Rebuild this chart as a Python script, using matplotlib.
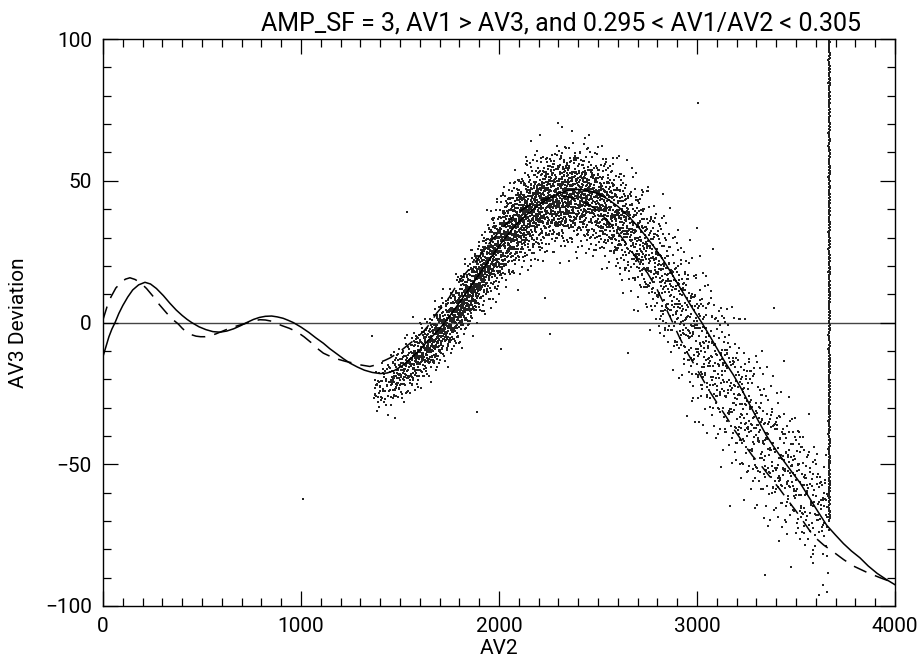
import numpy as np
import matplotlib
matplotlib.use("Agg")
import matplotlib.pyplot as plt
from matplotlib.ticker import MultipleLocator

# ---- data ----
solid_x = [0, 15, 30, 45, 61, 80, 100, 125, 150, 180, 212, 240, 270, 305, 338, 370, 400, 425, 448,
           485, 520, 555, 591, 625, 660, 695, 726, 760, 790, 820, 852, 880, 910, 935, 961, 1000,
           1040, 1075, 1113, 1145, 1180, 1215, 1247, 1285, 1320, 1360, 1400, 1435, 1470, 1510,
           1550, 1595, 1640, 1685, 1727, 1800, 1850, 1900, 1950, 2000, 2050, 2100, 2150, 2200,
           2250, 2300, 2350, 2400, 2450, 2500, 2550, 2600, 2650, 2700, 2740, 2780, 2830, 2870,
           2900, 2930, 2960, 2990, 3024, 3060, 3100, 3140, 3183, 3225, 3270, 3310, 3352, 3395,
           3440, 3480, 3520, 3560, 3600, 3655, 3700, 3740, 3780, 3823, 3865, 3910, 3955, 4000]
solid_y = [-12, -8.5, -5, -2.3, 0, 3.2, 6, 9, 11.5, 13.3, 14.2, 13.6, 12, 9.5, 6.8, 4.4, 2.5, 1.1, 0,
           -1.5, -2.5, -3.2, -3.4, -3.0, -2.2, -1.1, 0, 1.1, 1.8, 2.2, 2.3, 2.0, 1.5, 0.8, 0, -1.6,
           -3.5, -5.4, -7.3, -9.2, -11, -12.8, -14.3, -15.7, -16.8, -17.6, -18, -17.8, -17, -15.3,
           -13, -10, -6.5, -3.3, 0, 7, 12, 17, 22, 27, 31.5, 35.5, 38.7, 41.5,
           43.7, 45.5, 46.6, 47, 46.6, 45.5, 43.5, 41, 37.8, 34, 30.6, 27, 22, 17.5,
           14, 10.5, 7, 3.6, 0, -4.2, -9, -13.8, -18.4, -23.5, -29.5, -34.7, -40, -44.6,
           -49, -52.8, -56.5, -61, -65.5, -71.5, -75, -78, -80.6, -83, -85.9, -88.5, -90.6, -92.5]

dashed_x = [0, 20, 40, 65, 90, 113, 136, 162, 190, 220, 250, 285, 322, 350, 380, 400, 423, 447,
            470, 493, 515, 540, 570, 605, 640, 685, 726, 760, 793, 820, 850, 875, 900, 940, 978,
            1015, 1050, 1080, 1113, 1150, 1190, 1225, 1264, 1305, 1348, 1375, 1400, 1425, 1449,
            1490, 1530, 1575, 1618, 1650, 1685, 1720, 1750, 1780, 1803, 1845, 1887, 1940, 2000,
            2050, 2100, 2150, 2200, 2250, 2300, 2350, 2400, 2450, 2500, 2544, 2580, 2620, 2660,
            2700, 2750, 2800, 2840, 2874, 2910, 2950, 3000, 3066, 3110, 3150, 3190, 3234, 3280,
            3330, 3375, 3419, 3460, 3500, 3545, 3588, 3640, 3690, 3740, 3790, 3860, 3924, 4000]
dashed_y = [1, 5.5, 9, 12.2, 14, 15.3, 15.8, 15.2, 14, 12, 9.5, 6.3, 3.3, 1.2, -0.5, -2, -3.5, -4.3,
            -4.8, -5, -5, -4.7, -4, -3, -2, -1, -0.2, 0.6, 1, 0.9, 0.5, -0.2, -1, -2, -3.2,
            -5, -7, -9, -10.8, -12, -13, -13.7, -14.3, -15, -15.5, -15, -14, -13.3, -12.5,
            -10.7, -8.5, -6, -3.2, -0.5, 3.3, 6.2, 9, 12.5, 15, 18.5, 22, 27, 32,
            35.8, 39, 41.3, 43, 44, 44.5, 44.3, 43.5, 41.8, 39.5, 36.2, 33.5, 30, 26.2,
            22, 17.5, 11.5, 5.5, 0.5, -5, -10.5, -16.5, -24.5, -29.3, -33.5, -38, -42.5, -47,
            -51, -55, -58.9, -62.8, -66.5, -71, -75.3, -78.5, -81, -83.6, -85.9, -88.2, -90, -92]

# measured point cloud: centre line, spread and number of points per segment
cloud_x = [1370, 1450, 1550, 1650, 1750, 1850, 1950, 2050, 2150, 2250, 2350, 2450, 2550, 2650,
           2750, 2850, 2950, 3050, 3150, 3250, 3350, 3450, 3550, 3670]
cloud_yc = [-24, -21, -15, -8, 0, 10, 22, 32, 39, 43, 45, 44, 40, 34, 25, 14, 2, -10, -21, -32,
            -42, -51, -59, -66]
cloud_sd = [4, 4.5, 5, 5, 5, 5.5, 6.5, 7.5, 8, 8, 8, 8, 8.5, 9, 10, 11, 12, 13, 13.5, 13.5,
            13, 12, 11, 9]
cloud_n = [50, 130, 190, 240, 280, 320, 340, 350, 350, 340, 310, 270, 230, 190, 160, 140, 130,
           120, 115, 110, 105, 100, 90]

# vertical streak of points
streak_x = 3668
streak_ylim = [-70, 102]
streak_n = 380

# isolated points
outlier_x = [1533, 1887, 2008, 2258, 2653, 2978, 3003, 1357, 1012, 3660, 3638, 3655, 3346, 3588, 3588, 3588]
outlier_y = [39, -31.7, -9.4, -4, -10.6, -26.6, 77.5, -4.6, -62.4, -88.2, -92.6, -95, -89.2, -84.7, -81.8, -80.3]

title = "AMP_SF = 3, AV1 > AV3, and 0.295 < AV1/AV2 < 0.305"
xlabel = "AV2"
ylabel = "AV3 Deviation"


def halton(n, base, start=1):
    idx = np.arange(start, start + n)
    res = np.zeros(n)
    f = 1.0
    i = idx.copy()
    while np.any(i > 0):
        f /= base
        res += f * (i % base)
        i //= base
    return res


# build cloud points deterministically (quasi-uniform sequence + Box-Muller)
px, py = [], []
offset = 1
for k in range(len(cloud_n)):
    n = cloud_n[k]
    u = halton(n, 2, offset)
    v = halton(n, 3, offset)
    w = halton(n, 5, offset)
    offset += n
    x0, x1 = cloud_x[k], cloud_x[k + 1]
    xs = x0 + (x1 - x0) * u
    t = (xs - x0) / (x1 - x0)
    yc = cloud_yc[k] + t * (cloud_yc[k + 1] - cloud_yc[k])
    sd = cloud_sd[k] + t * (cloud_sd[k + 1] - cloud_sd[k])
    z = np.sqrt(-2 * np.log(np.clip(v, 1e-6, 1))) * np.cos(2 * np.pi * w)
    px.append(xs)
    py.append(yc + sd * z)
px = np.concatenate(px)
py = np.concatenate(py)

su = halton(streak_n, 7)
sv = halton(streak_n, 11)
sx = streak_x + (sv - 0.5) * 8
sy = streak_ylim[0] + (streak_ylim[1] - streak_ylim[0]) * su

# ---- figure ----
plt.rcParams['font.family'] = ['Roboto', 'Liberation Sans', 'DejaVu Sans']
fig = plt.figure(figsize=(9.22, 6.63), dpi=100)
ax = fig.add_axes([0.1117, 0.086, 0.859, 0.855])

ax.axhline(0, color='#444444', lw=1.0, zorder=1)
dot = dict(s=1.1, marker='s', c='#222222', linewidths=0, zorder=2)
ax.scatter(px, py, **dot)
ax.scatter(sx, sy, **dot)
ax.scatter(outlier_x, outlier_y, **dot)
ax.plot(solid_x, solid_y, color='black', lw=1.1, zorder=3)
ax.plot(dashed_x, dashed_y, color='black', lw=1.1, dashes=(9, 6), zorder=3)

ax.set_xlim(0, 4000)
ax.set_ylim(-100, 100)
ax.xaxis.set_major_locator(MultipleLocator(1000))
ax.xaxis.set_minor_locator(MultipleLocator(100))
ax.yaxis.set_major_locator(MultipleLocator(50))
ax.yaxis.set_minor_locator(MultipleLocator(10))
ax.tick_params(which='both', direction='in', top=True, right=True, width=0.9, colors='black',
               labelsize=15, pad=8)
ax.tick_params(which='major', length=11)
ax.tick_params(which='minor', length=5.5)
ax.set_yticks([-100, -50, 0, 50, 100])
ax.set_yticklabels(['\u2212100', '\u221250', '0', '50', '100'])
for s in ax.spines.values():
    s.set_linewidth(1.0)

ax.set_title(title, fontsize=18, pad=6, x=0.578)
ax.set_xlabel(xlabel, fontsize=15, labelpad=2)
ax.set_ylabel(ylabel, fontsize=15, labelpad=12)

fig.savefig('out.png', dpi=100)
